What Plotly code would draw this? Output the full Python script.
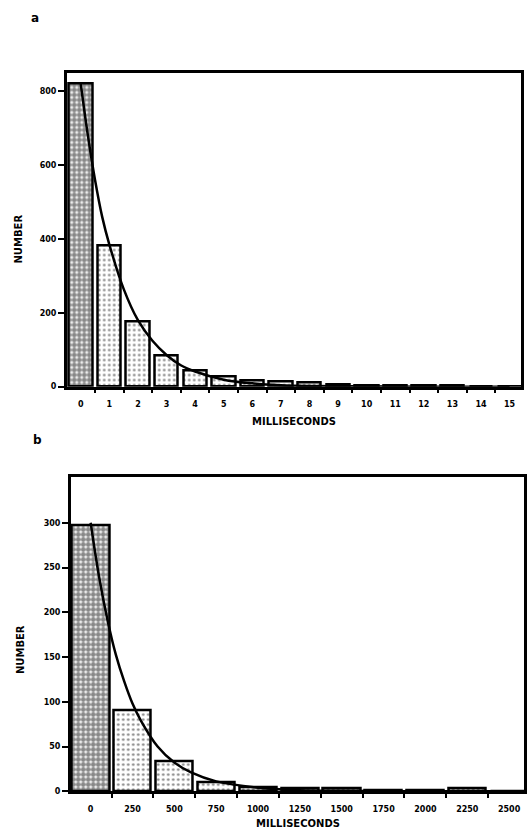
import plotly.graph_objects as go

# ---- Panel a data (bins in milliseconds) ----
a_bins = [0, 1, 2, 3, 4, 5, 6, 7, 8, 9, 10, 11, 12, 13, 14, 15]
a_counts = [820, 382, 176, 85, 45, 28, 16, 13, 10, 7, 3, 2, 2, 3, 1, 0]
a_curve_x = [0, 0.25, 0.5, 0.75, 1, 1.5, 2, 2.5, 3, 3.5, 4, 5, 6, 7, 8, 10, 12, 15]
a_curve_y = [820, 680, 560, 460, 385, 265, 180, 125, 86, 58, 41, 19, 9, 4, 2, 1, 0, 0]
a_xticks = list(range(0, 16))
a_yticks = [0, 200, 400, 600, 800]

# ---- Panel b data ----
b_bins = [0, 250, 500, 750, 1000, 1250, 1500, 1750, 2000, 2250, 2500]
b_counts = [297, 91, 34, 10, 5, 4, 4, 1, 1, 3, 0]
b_curve_x = [0, 50, 100, 150, 200, 250, 300, 400, 500, 600, 750, 1000, 1250, 1500, 2000, 2550]
b_curve_y = [300, 240, 192, 153, 123, 98, 79, 50, 32, 21, 11, 4, 1.2, 0.5, 0, 0]
b_xticks = [0, 250, 500, 750, 1000, 1250, 1500, 1750, 2000, 2250, 2500]
b_yticks = [0, 50, 100, 150, 200, 250, 300]

FONT = "DejaVu Sans"

def sol(n):
    return [0.75] + [0.22] * (n - 1)

fig = go.Figure()

fig.add_trace(go.Bar(
    x=a_bins, y=a_counts, width=0.82, xaxis="x", yaxis="y",
    marker=dict(color="white", line=dict(color="black", width=2.5),
                pattern=dict(shape=".", fgcolor="#111", bgcolor="white",
                             size=5, solidity=sol(len(a_bins)))),
    showlegend=False))
fig.add_trace(go.Scatter(
    x=a_curve_x, y=a_curve_y, mode="lines", xaxis="x", yaxis="y",
    line=dict(color="black", width=2.5, shape="spline"), showlegend=False))

fig.add_trace(go.Bar(
    x=b_bins, y=b_counts, width=222, xaxis="x2", yaxis="y2",
    marker=dict(color="white", line=dict(color="black", width=2.5),
                pattern=dict(shape=".", fgcolor="#111", bgcolor="white",
                             size=5, solidity=sol(len(b_bins)))),
    showlegend=False))
fig.add_trace(go.Scatter(
    x=b_curve_x, y=b_curve_y, mode="lines", xaxis="x2", yaxis="y2",
    line=dict(color="black", width=2.5, shape="spline"), showlegend=False))

tickfont = dict(family=FONT, size=8, color="black", weight="bold")

def xaxis(domain, rng, ticks, minor_vals, anchor):
    return dict(domain=domain, range=rng, anchor=anchor,
                tickmode="array", tickvals=ticks, ticktext=[str(t) for t in ticks],
                ticks="outside", ticklen=8, tickcolor="rgba(0,0,0,0)",
                tickfont=tickfont, showgrid=False, zeroline=False,
                showline=True, linecolor="black", linewidth=2.5, mirror=True,
                minor=dict(tickmode="array", tickvals=minor_vals, ticks="outside",
                           ticklen=4, tickwidth=2, tickcolor="black", showgrid=False))

def yaxis(domain, rng, ticks, anchor):
    return dict(domain=domain, range=rng, anchor=anchor,
                tickmode="array", tickvals=ticks, ticktext=[str(t) for t in ticks],
                ticks="outside", ticklen=6, tickwidth=2, tickcolor="black",
                tickfont=tickfont, showgrid=False, zeroline=False,
                showline=True, linecolor="black", linewidth=2.5, mirror=True)

a_minor = [v + 0.5 for v in a_bins]
b_minor = [v + 125 for v in b_bins]

fig.update_layout(
    width=527, height=838, margin=dict(l=0, r=0, t=0, b=0),
    paper_bgcolor="white", plot_bgcolor="white", bargap=0,
    xaxis=xaxis([67/527, 523/527], [-0.49, 15.4], a_xticks, a_minor, "y"),
    yaxis=yaxis([1-389/838, 1-73/838], [0, 851], a_yticks, "x"),
    xaxis2=xaxis([71/527, 526/527], [-119, 2589], b_xticks, b_minor, "y2"),
    yaxis2=yaxis([1-796/838, 1-480/838], [0, 351], b_yticks, "x2"),
)

def ann(text, x, y, size=10, angle=0):
    fig.add_annotation(text=text, x=x/527, y=1-y/838, xref="paper", yref="paper",
                       xanchor="center", yanchor="middle",
                       showarrow=False, textangle=angle,
                       font=dict(family=FONT, size=size, color="black", weight="bold"))

ann("a", 35, 18, size=12)
ann("b", 38, 443, size=12)
ann("MILLISECONDS", 295, 424, size=10)
ann("MILLISECONDS", 299, 828, size=10)
ann("NUMBER", 19, 240, size=10, angle=-90)
ann("NUMBER", 20, 653, size=10, angle=-90)

fig.write_html("out.html")
